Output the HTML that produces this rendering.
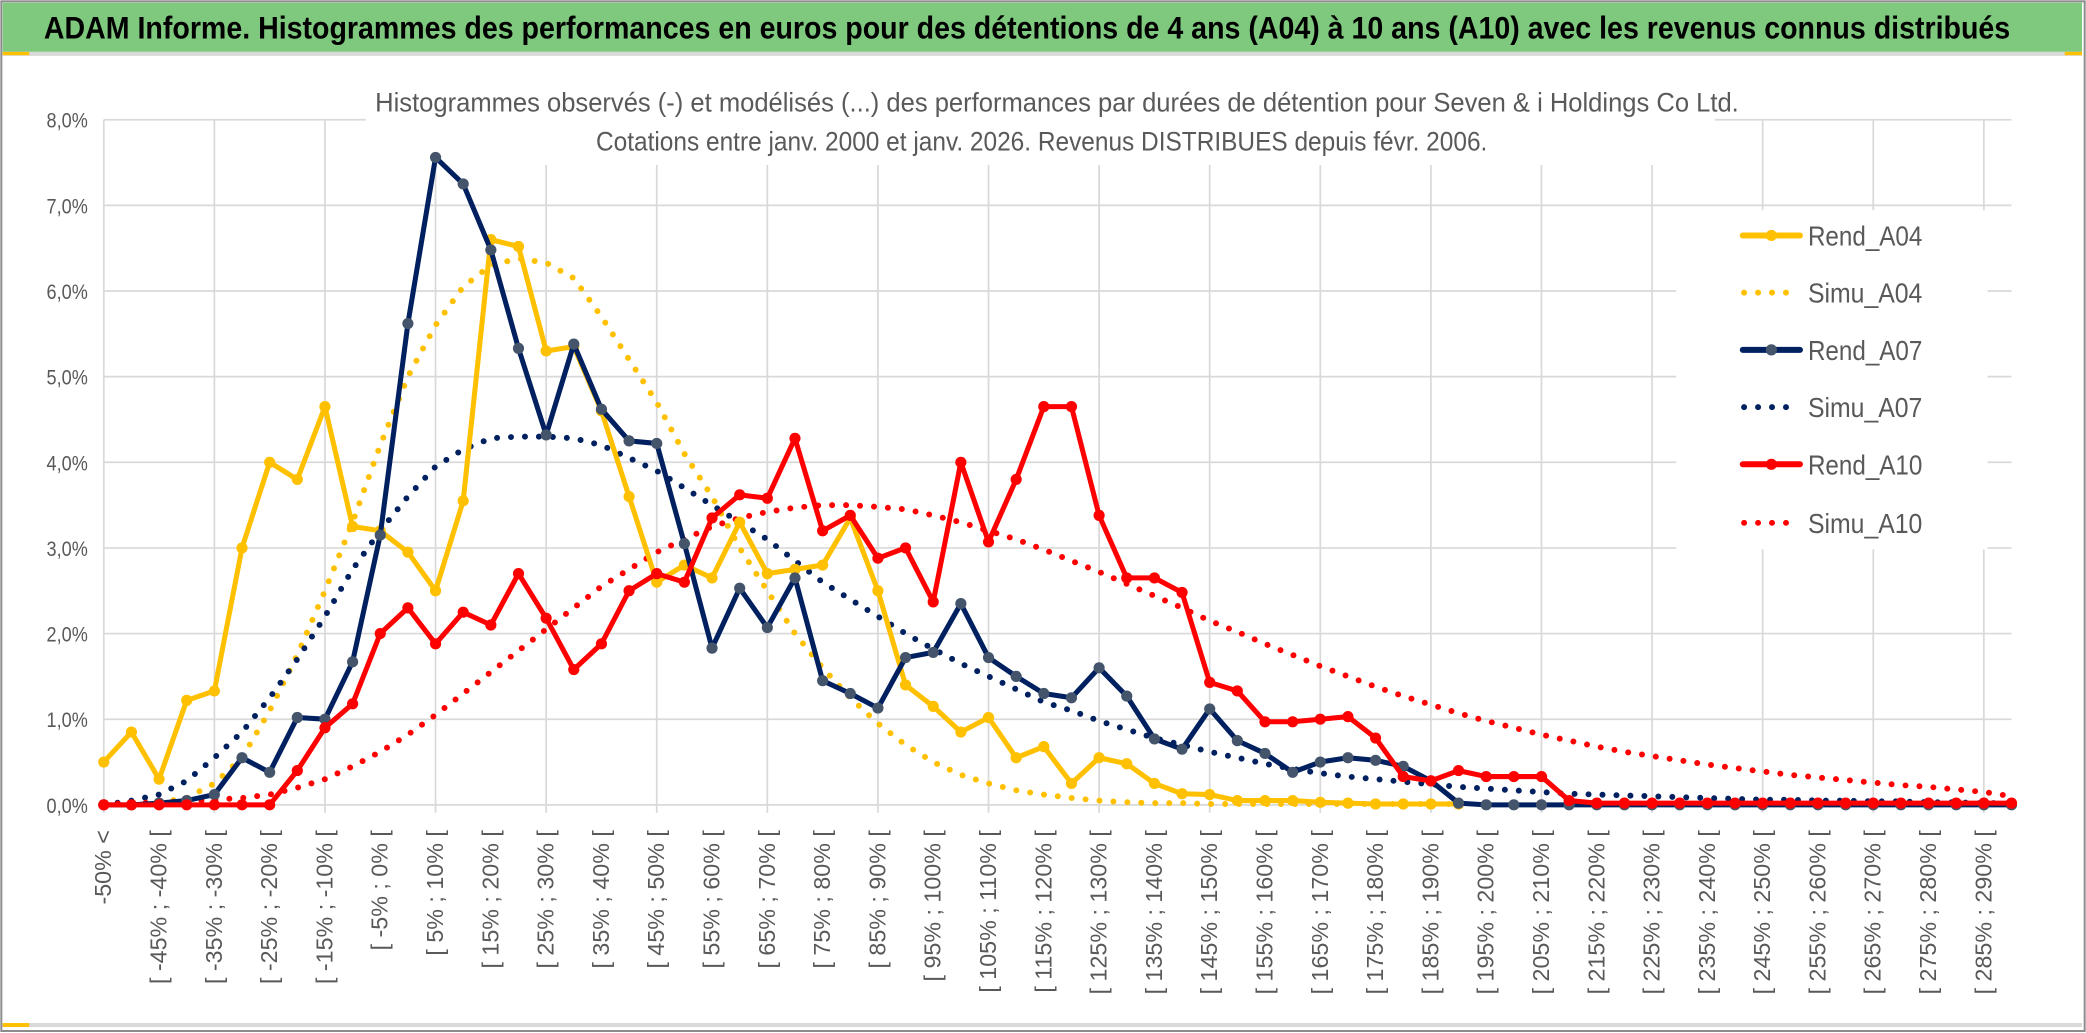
<!DOCTYPE html>
<html><head><meta charset="utf-8"><style>
html,body{margin:0;padding:0;background:#fff;}
svg{display:block;}
text{font-family:"Liberation Sans",sans-serif;}
</style></head><body>
<svg id="chart" width="2086" height="1033" viewBox="0 0 1568 776.5" preserveAspectRatio="none" xmlns="http://www.w3.org/2000/svg">
<rect x="0" y="0" width="1568" height="776.5" fill="#fff"/>
<rect x="1" y="1" width="1566" height="774" fill="none" stroke="#8c8c8c" stroke-width="1.5"/>
<rect x="2" y="2" width="1563" height="37" fill="#7fc97f"/>
<rect x="2" y="39" width="1563" height="3" fill="#d9d9d9"/>
<rect x="2" y="39" width="20" height="2.5" fill="#ffc000"/>
<rect x="1552" y="39" width="13" height="2.5" fill="#ffc000"/>
<text x="33" y="29" font-size="24" font-weight="bold" fill="#000" textLength="1478" lengthAdjust="spacingAndGlyphs">ADAM Informe. Histogrammes des performances en euros pour des détentions de 4 ans (A04) à 10 ans (A10) avec les revenus connus distribués</text>
<rect x="2" y="769" width="1563" height="3" fill="#d9d9d9"/>
<rect x="2" y="769" width="20" height="3" fill="#ffc000"/>
<g id="grid"></g>
<g id="ylabels"></g>
<g id="xlabels"></g>
<rect x="275" y="60" width="1014" height="64" fill="#fff"/>
<text x="282" y="84" font-size="20" fill="#595959" textLength="1025" lengthAdjust="spacingAndGlyphs">Histogrammes observés (-) et modélisés (...) des performances par durées de détention pour Seven &amp; i Holdings Co Ltd.</text>
<text x="448" y="113" font-size="20" fill="#595959" textLength="670" lengthAdjust="spacingAndGlyphs">Cotations entre janv. 2000 et janv. 2026. Revenus DISTRIBUES depuis févr. 2006.</text>
<rect x="1260" y="158" width="234" height="255" fill="#fff"/>
<g id="series"></g>
<g id="legend"></g>
</svg>
<script>
const categoryLowerBounds = [];
for (let k = 0; k < 70; k++) categoryLowerBounds.push(-55 + 5 * k);
const yTicks = [0,1,2,3,4,5,6,7,8];
const yTickLabels = ["0,0%","1,0%","2,0%","3,0%","4,0%","5,0%","6,0%","7,0%","8,0%"];
const rendA04 = [0.5,0.85,0.3,1.22,1.33,3.0,4.0,3.8,4.65,3.25,3.2,2.95,2.5,3.55,6.6,6.52,5.3,5.35,4.6,3.6,2.6,2.8,2.65,3.3,2.7,2.75,2.8,3.35,2.5,1.4,1.15,0.85,1.02,0.55,0.68,0.25,0.55,0.48,0.25,0.13,0.12,0.05,0.05,0.05,0.03,0.02,0.01,0.01,0.01,0.01,null,null,null,null,null,null,null,null,null,null,null,null,null,null,null,null,null,null,null,null];
const simuA04 = [0,0.01,0.03,0.08,0.25,0.55,1.1,1.75,2.5,3.3,4.2,5.0,5.6,6.05,6.3,6.38,6.33,6.15,5.7,5.2,4.7,4.1,3.6,3.0,2.5,2.0,1.6,1.25,0.95,0.7,0.5,0.35,0.25,0.17,0.12,0.08,0.05,0.03,0.02,0.02,0.01,0.01,0.01,0.01,0.01,0.01,0.01,0.01,0.01,0.01,null,null,null,null,null,null,null,null,null,null,null,null,null,null,null,null,null,null,null,null];
const rendA07 = [0,0,0.02,0.05,0.12,0.55,0.38,1.02,1.0,1.67,3.15,5.62,7.56,7.25,6.48,5.33,4.32,5.38,4.62,4.25,4.22,3.05,1.83,2.53,2.07,2.65,1.45,1.3,1.13,1.72,1.78,2.35,1.72,1.5,1.3,1.25,1.6,1.27,0.77,0.65,1.12,0.75,0.6,0.38,0.5,0.55,0.52,0.45,0.28,0.02,0,0,0,0,0,0,0,0,0,0,0,0,0,0,0,0,0,0,0,0];
const simuA07 = [0,0.05,0.12,0.28,0.55,0.85,1.25,1.7,2.2,2.75,3.2,3.6,3.95,4.15,4.28,4.3,4.3,4.28,4.2,4.05,3.9,3.7,3.5,3.3,3.1,2.85,2.6,2.4,2.2,2.0,1.82,1.65,1.5,1.35,1.2,1.1,0.98,0.88,0.78,0.7,0.62,0.55,0.48,0.42,0.37,0.33,0.3,0.27,0.24,0.21,0.19,0.17,0.15,0.13,0.12,0.11,0.1,0.09,0.08,0.07,0.06,0.06,0.05,0.05,0.04,0.04,0.03,0.03,0.02,0.02];
const rendA10 = [0,0,0,0,0,0,0,0.4,0.9,1.18,2.0,2.3,1.88,2.25,2.1,2.7,2.18,1.58,1.88,2.5,2.7,2.6,3.35,3.62,3.58,4.28,3.2,3.38,2.88,3.0,2.37,4.0,3.07,3.8,4.65,4.65,3.38,2.65,2.65,2.48,1.43,1.33,0.97,0.97,1.0,1.03,0.78,0.33,0.28,0.4,0.33,0.33,0.33,0.05,0.02,0.02,0.02,0.02,0.02,0.02,0.02,0.02,0.02,0.02,0.02,0.02,0.02,0.02,0.02,0.02];
const simuA10 = [0.01,0.02,0.03,0.04,0.06,0.08,0.12,0.2,0.3,0.45,0.62,0.82,1.05,1.3,1.55,1.8,2.05,2.3,2.55,2.75,2.95,3.1,3.25,3.35,3.42,3.47,3.5,3.5,3.48,3.45,3.38,3.3,3.2,3.1,2.98,2.85,2.72,2.58,2.44,2.3,2.15,2.02,1.88,1.75,1.62,1.5,1.38,1.27,1.17,1.07,0.98,0.9,0.82,0.75,0.68,0.62,0.57,0.52,0.47,0.43,0.39,0.35,0.32,0.29,0.26,0.23,0.21,0.18,0.15,0.1];

const NS = "http://www.w3.org/2000/svg";
const X0 = 78, X1 = 1512, Y0 = 605, Y8 = 90;
const n = categoryLowerBounds.length;
function xPos(i){ return X0 + (X1 - X0) * i / (n - 1); }
function yPos(v){ return Y0 - (Y0 - Y8) * v / 8; }
function mk(tag, attrs, parent){ const e = document.createElementNS(NS, tag); for (const a in attrs) e.setAttribute(a, attrs[a]); parent.appendChild(e); return e; }
function catLabel(i){ const a = categoryLowerBounds[i]; return i === 0 ? "-50% <" : "[ " + a + "% ; " + (a + 5) + "% ["; }

const grid = document.getElementById('grid');
yTicks.forEach(t => {
  const l = mk('line', {x1: X0, x2: X1, y1: yPos(t), y2: yPos(t), stroke: '#d9d9d9', 'stroke-width': 1.3}, grid);
  
  
});
for (let i = 0; i < n; i += 4) {
  const l = mk('line', {x1: xPos(i), x2: xPos(i), y1: Y8, y2: Y0 + 6, stroke: '#d9d9d9', 'stroke-width': 1.3}, grid);
  
  
}
const yl = document.getElementById('ylabels');
yTicks.forEach((t, j) => {
  const e = mk('text', {x: 66, y: yPos(t) + 6, 'text-anchor': 'end', 'font-size': 16, fill: '#595959', textLength: 31, lengthAdjust: 'spacingAndGlyphs'}, yl);
  e.textContent = yTickLabels[j];
  
  
});
const xl = document.getElementById('xlabels');
for (let i = 0; i < n; i += 2) {
  const x = xPos(i) + 1, y = 624;
  const e = mk('text', {x: x, y: y, 'text-anchor': 'end', 'dominant-baseline': 'middle', 'font-size': 17.5, fill: '#595959', transform: 'rotate(-90 ' + x + ' ' + y + ')'}, xl);
  e.textContent = catLabel(i);
  
  
}

const series = document.getElementById('series');
function segs(vals){ const out = []; let cur = []; vals.forEach((v, i) => { if (v === null) { if (cur.length) out.push(cur); cur = []; } else cur.push([xPos(i), yPos(v)]); }); if (cur.length) out.push(cur); return out; }
function drawDotted(vals, color, name){
  segs(vals).forEach(s => {
    const p = mk('polyline', {points: s.map(q => q.join(',')).join(' '), fill: 'none', stroke: color, 'stroke-width': 4.5, 'stroke-linecap': 'round', 'stroke-dasharray': '0 10.5'}, series);
    
    
  });
}
function drawSolid(vals, color, mcolor, name){
  segs(vals).forEach(s => {
    const p = mk('polyline', {points: s.map(q => q.join(',')).join(' '), fill: 'none', stroke: color, 'stroke-width': 3.8, 'stroke-linejoin': 'round'}, series);
    
    
  });
  vals.forEach((v, i) => {
    if (v === null) return;
    const c = mk('circle', {cx: xPos(i), cy: yPos(v), r: 4.2, fill: mcolor}, series);
    
    
  });
}
drawDotted(simuA04, '#ffc000', 'simu-a04-line');
drawDotted(simuA07, '#002060', 'simu-a07-line');
drawDotted(simuA10, '#ff0000', 'simu-a10-line');
drawSolid(rendA04, '#ffc000', '#ffc000', 'rend-a04-line');
drawSolid(rendA07, '#002060', '#44546a', 'rend-a07-line');
drawSolid(rendA10, '#ff0000', '#ff0000', 'rend-a10-line');

const legendNames = ["Rend_A04","Simu_A04","Rend_A07","Simu_A07","Rend_A10","Simu_A10"];
const legendColors = ['#ffc000','#ffc000','#002060','#002060','#ff0000','#ff0000'];
const legendMarkers = ['#ffc000',null,'#44546a',null,'#ff0000',null];
const legendY = [177,220,263,306,349,393];
const lg = document.getElementById('legend');
legendNames.forEach((nm, j) => {
  const g = mk('g', {}, lg);
  
  
  const y = legendY[j];
  if (legendMarkers[j]) {
    mk('line', {x1: 1310, x2: 1353, y1: y, y2: y, stroke: legendColors[j], 'stroke-width': 4.5, 'stroke-linecap': 'round'}, g);
    mk('circle', {cx: 1331.5, cy: y, r: 4.2, fill: legendMarkers[j]}, g);
  } else {
    mk('line', {x1: 1311, x2: 1353, y1: y, y2: y, stroke: legendColors[j], 'stroke-width': 4.5, 'stroke-linecap': 'round', 'stroke-dasharray': '0 10.5'}, g);
  }
  const t = mk('text', {x: 1359, y: y + 7.5, 'font-size': 21, fill: '#595959', textLength: 86, lengthAdjust: 'spacingAndGlyphs'}, g);
  t.textContent = nm;
});
</script>
</body></html>
